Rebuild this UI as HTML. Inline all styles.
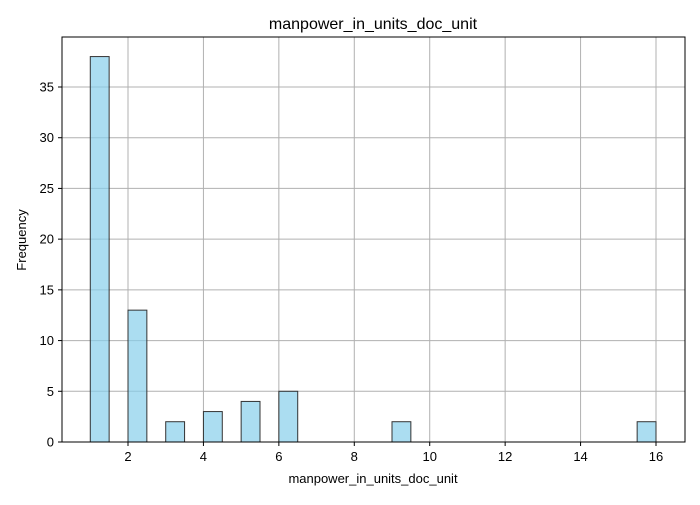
<!DOCTYPE html>
<html><head><meta charset="utf-8"><style>
body{margin:0;background:#fff;font-family:"Liberation Sans","DejaVu Sans",sans-serif;}
</style></head><body>
<svg width="700" height="500" id="chart" xmlns="http://www.w3.org/2000/svg">
<text x="373" y="29" text-anchor="middle" font-size="16">manpower_in_units_doc_unit</text>
<g id="grid"></g>
<g id="bars"></g>
<rect x="62" y="37" width="623" height="405" fill="none" stroke="#000" stroke-width="1"/>
<g id="xt"></g>
<g id="yt"></g>
<text x="373" y="483" text-anchor="middle" font-size="13">manpower_in_units_doc_unit</text>
<text x="26" y="240" text-anchor="middle" font-size="13" transform="rotate(-90 26 240)">Frequency</text>
</svg>
<script>
const binStarts=[1,2,3,4,5,6,9,15.5];
const counts=[38,13,2,3,4,5,2,2];
const binWidth=0.5;
const xTicks=[2,4,6,8,10,12,14,16];
const yTicks=[0,5,10,15,20,25,30,35];
const NS="http://www.w3.org/2000/svg";
const X=v=>128+(v-2)*(656-128)/14;
const Y=v=>442-v*(442-87)/35;
function mk(t,a,p){const e=document.createElementNS(NS,t);for(const k in a)e.setAttribute(k,a[k]);p.appendChild(e);return e;}
const grid=document.getElementById('grid'),bars=document.getElementById('bars'),xt=document.getElementById('xt'),yt=document.getElementById('yt');
xTicks.forEach(v=>{
 const l=mk('line',{x1:X(v),x2:X(v),y1:37,y2:442,stroke:'#b0b0b0','stroke-width':1},grid);
 
 
 mk('line',{x1:X(v),x2:X(v),y1:442,y2:446,stroke:'#000'},xt);
 const t=mk('text',{x:X(v),y:461,'text-anchor':'middle','font-size':13},xt);t.textContent=v;
 
 
});
yTicks.forEach(v=>{
 const l=mk('line',{x1:62,x2:685,y1:Y(v),y2:Y(v),stroke:'#b0b0b0','stroke-width':1},grid);
 
 
 mk('line',{x1:58,x2:62,y1:Y(v),y2:Y(v),stroke:'#000'},yt);
 const t=mk('text',{x:54,y:Y(v)+4.5,'text-anchor':'end','font-size':13},yt);t.textContent=v;
 
 
});
binStarts.forEach((s,i)=>{
 const r=mk('rect',{x:X(s),y:Y(counts[i]),width:X(s+binWidth)-X(s),height:Y(0)-Y(counts[i]),fill:'rgba(135,206,235,0.7)',stroke:'#333','stroke-width':1},bars);
 
 
});
</script>
</body></html>
